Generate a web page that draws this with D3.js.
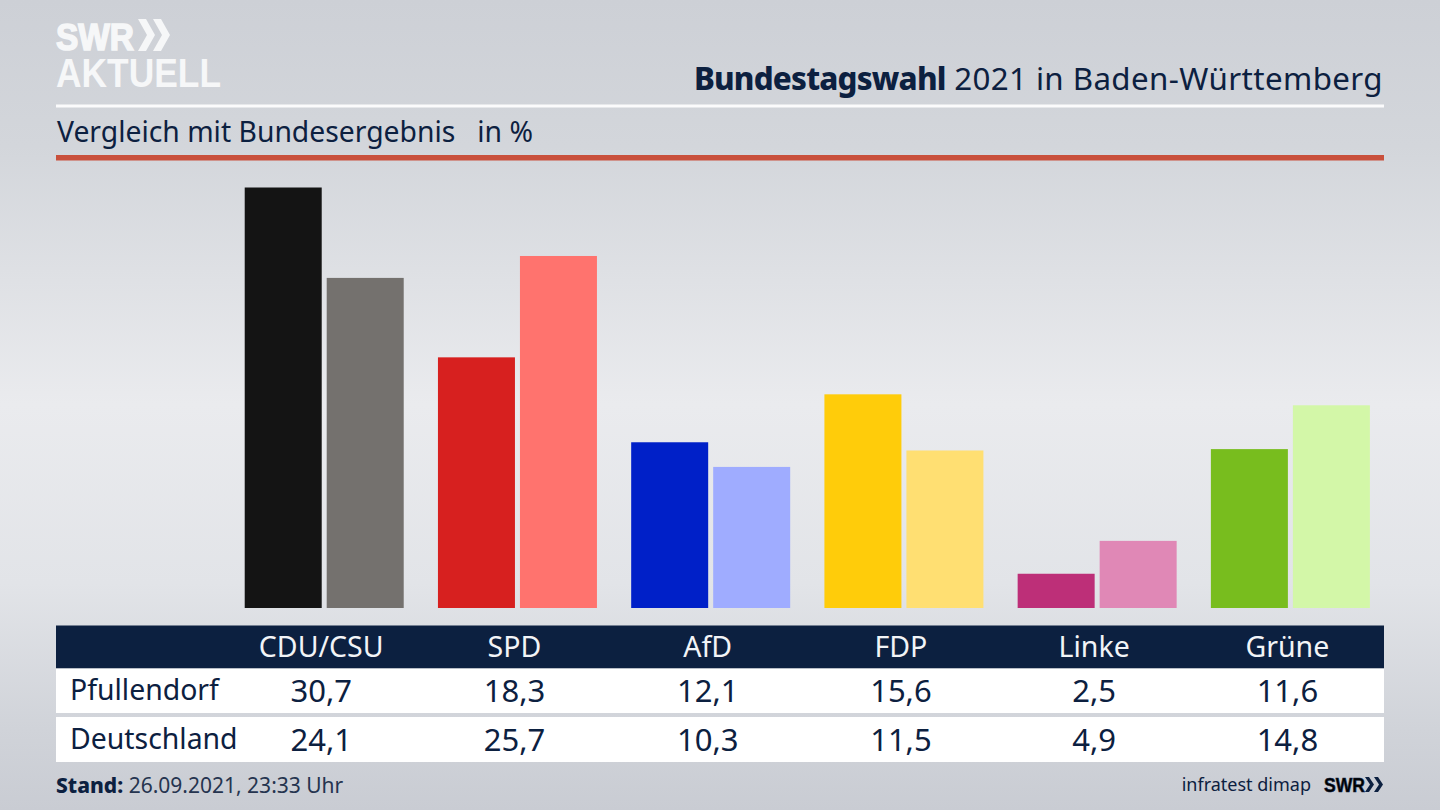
<!DOCTYPE html>
<html><head><meta charset="utf-8">
<script src="https://cdnjs.cloudflare.com/ajax/libs/d3/7.8.5/d3.min.js"></script>
<style>html,body{margin:0;padding:0;overflow:hidden}svg{display:block}text{font-family:"Noto Sans",sans-serif}</style>
</head><body><svg id="c" width="1440" height="810"></svg>
<script>
const parties = ["CDU/CSU","SPD","AfD","FDP","Linke","Grüne"];
const rowNames = ["Pfullendorf","Deutschland"];
const local = [30.7,18.3,12.1,15.6,2.5,11.6];
const national = [24.1,25.7,10.3,11.5,4.9,14.8];
const localColors = ["#141414","#d7201f","#0020c8","#ffcc0a","#bd2f78","#78bd1e"];
const nationalColors = ["#74716e","#ff736e","#9facff","#ffdf72","#e088b6","#d3f7a8"];
const fmt = v => v.toFixed(1).replace(".",",");
const navy = "#0c2040";

const svg = d3.select("#c");
const defs = svg.append("defs");
const bg = defs.append("linearGradient").attr("id","bg").attr("x1",0).attr("y1",0).attr("x2",0).attr("y2",1);
[[0,"#cdd0d6"],[0.18,"#d3d6db"],[0.5,"#eaebee"],[0.72,"#e2e4e8"],[0.9,"#d0d3d9"],[1,"#c9ccd3"]]
  .forEach(([o,c])=>bg.append("stop").attr("offset",o).attr("stop-color",c));
svg.append("rect").attr("width",1440).attr("height",810).attr("fill","url(#bg)");

// Logo
const logo = svg.append("g").attr("fill","#f6f7f8");
logo.append("text").attr("x",56).attr("y",49.5).attr("font-size",37).attr("font-weight",700)
  .attr("stroke","#f6f7f8").attr("stroke-width",1.6)
  .attr("textLength",78).attr("lengthAdjust","spacingAndGlyphs").style("font-family","'Liberation Sans',sans-serif").text("SWR");
logo.append("text").attr("x",56).attr("y",87).attr("font-size",40).attr("font-weight",700)
  .attr("textLength",165).attr("lengthAdjust","spacingAndGlyphs").style("font-family","'Liberation Sans',sans-serif").text("AKTUELL");
const chevron = (g,x,y,w,h,t)=>g.append("path").attr("d",`M${x},${y}h${t}l${w},${h/2}l${-w},${h/2}h${-t}l${w},${-h/2}z`);
chevron(logo,138,19,9,32,8); chevron(logo,153,19,9,32,8);

// Header
svg.append("text").attr("x",1383).attr("y",90).attr("text-anchor","end").attr("font-size",31.3).attr("fill",navy)
  .html('<tspan font-weight="800" letter-spacing="-0.8">Bundestagswahl</tspan><tspan letter-spacing="0.4"> 2021 in Baden-Württemberg</tspan>');
svg.append("rect").attr("x",56).attr("y",104.5).attr("width",1328).attr("height",3).attr("fill","#fbfbfc");
svg.append("text").attr("x",57).attr("y",142).attr("font-size",28.3).attr("fill",navy)
  .style("white-space","pre").text("Vergleich mit Bundesergebnis   in %");
svg.append("rect").attr("x",56).attr("y",155).attr("width",1328).attr("height",5.5).attr("fill","#c9503c");

// Scales
const x = d3.scaleBand().domain(parties).range([224.6,1384]).paddingInner(0).paddingOuter(0);
const y = d3.scaleLinear().domain([0,30.7]).range([608,187.5]);
const barW = 77, gap = 5, barShift = 3;
const center = p => x(p)+x.bandwidth()/2;

// Bars
const bars = svg.append("g");
bars.selectAll(".a").data(parties).join("rect").attr("class","a")
  .attr("x",p=>center(p)+barShift-barW-gap/2).attr("width",barW)
  .attr("y",(p,i)=>y(local[i])).attr("height",(p,i)=>y(0)-y(local[i]))
  .attr("fill",(p,i)=>localColors[i]);
bars.selectAll(".b").data(parties).join("rect").attr("class","b")
  .attr("x",p=>center(p)+barShift+gap/2).attr("width",barW)
  .attr("y",(p,i)=>y(national[i])).attr("height",(p,i)=>y(0)-y(national[i]))
  .attr("fill",(p,i)=>nationalColors[i]);

// Table
svg.append("rect").attr("x",56).attr("y",625.5).attr("width",1328).attr("height",43).attr("fill",navy);
svg.append("rect").attr("x",56).attr("y",668.5).attr("width",1328).attr("height",44.5).attr("fill","#fff");
svg.append("rect").attr("x",56).attr("y",717).attr("width",1328).attr("height",45).attr("fill","#fff");
svg.selectAll(".h").data(parties).join("text").attr("class","h").attr("x",center).attr("y",657)
  .attr("text-anchor","middle").attr("font-size",28.5).attr("fill","#f2f4f7").text(d=>d);
[local,national].forEach((vals,r)=>{
  const yy = [701,750][r];
  svg.append("text").attr("x",70).attr("y",yy-1).attr("font-size",28.4).attr("fill",navy).text(rowNames[r]);
  svg.selectAll(".v"+r).data(vals).join("text").attr("class","v"+r)
    .attr("x",(d,i)=>center(parties[i])).attr("y",yy+1).attr("text-anchor","middle")
    .attr("font-size",31).attr("fill",navy).text(fmt);
});

// Footer
svg.append("text").attr("x",56).attr("y",793).attr("font-size",21).attr("fill",navy)
  .html('<tspan font-weight="800">Stand:</tspan> <tspan fill="#25344f">26.09.2021, 23:33 Uhr</tspan>');
svg.append("text").attr("x",1311).attr("y",791).attr("text-anchor","end").attr("font-size",18).attr("fill",navy).text("infratest dimap");
svg.append("text").attr("x",1324).attr("y",792).attr("font-size",20).attr("font-weight",700)
  .attr("stroke",navy).attr("stroke-width",0.6)
  .attr("textLength",41).attr("lengthAdjust","spacingAndGlyphs").style("font-family","'Liberation Sans',sans-serif").text("SWR");
const fl = svg.append("g").attr("fill",navy);
chevron(fl,1365,777,5,15,4); chevron(fl,1374,777,5,15,4);
</script></body></html>
